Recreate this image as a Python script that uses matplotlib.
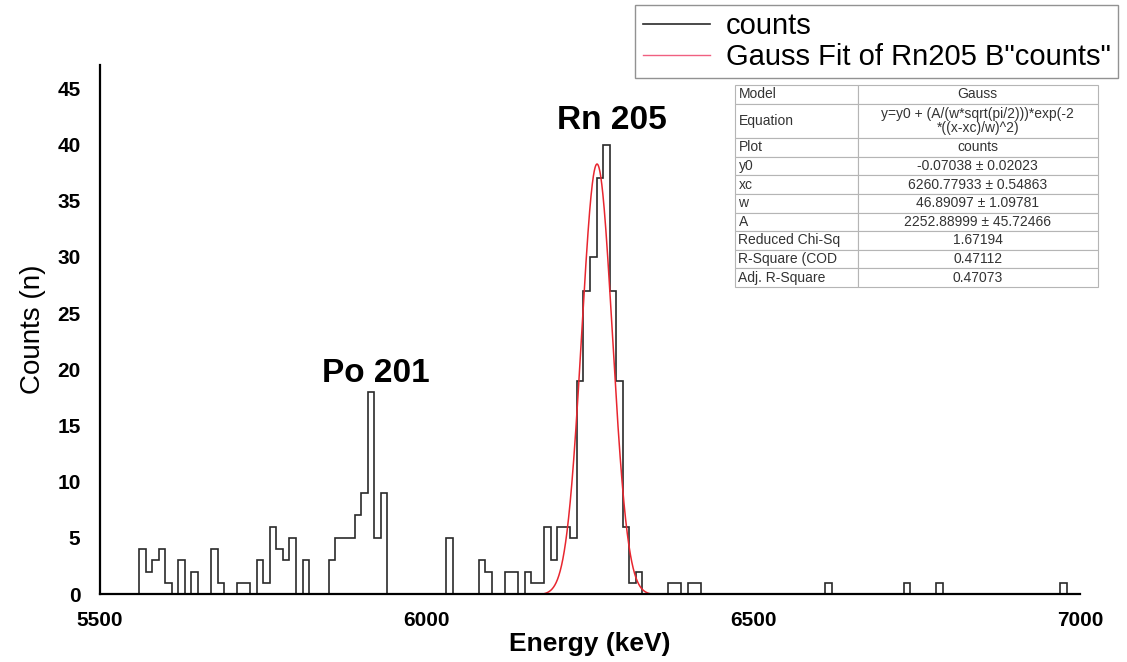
import numpy as np
import matplotlib
matplotlib.use('Agg')
import matplotlib.pyplot as plt
from matplotlib.lines import Line2D

plt.rcParams['font.family'] = ['Liberation Sans', 'DejaVu Sans']

# histogram: 10 keV bins starting at 5560 keV
bin_start = 5560
bin_width = 10
counts = [
    4, 2, 3, 4, 1, 0, 3, 0, 2, 0,       # 5560-5650
    0, 4, 1, 0, 0, 1, 1, 0, 3, 1,       # 5660-5750
    6, 4, 3, 5, 0, 3, 0, 0, 0, 3,       # 5760-5850
    5, 5, 5, 7, 9, 18, 5, 9, 0, 0,      # 5860-5950
    0, 0, 0, 0, 0, 0, 0, 5, 0, 0,       # 5960-6050
    0, 0, 3, 2, 0, 0, 2, 2, 0, 2,       # 6060-6150
    1, 1, 6, 3, 6, 6, 5, 19, 27, 30,    # 6160-6250
    37, 40, 27, 19, 6, 1, 2, 0, 0, 0,   # 6260-6350
    0, 1, 1, 0, 1, 1, 0, 0, 0, 0,       # 6360-6450
    0, 0, 0, 0, 0, 0, 0, 0, 0, 0,       # 6460-6550
    0, 0, 0, 0, 0, 1, 0, 0, 0, 0,       # 6560-6650
    0, 0, 0, 0, 0, 0, 0, 1, 0, 0,       # 6660-6750
    0, 0, 1, 0, 0, 0, 0, 0, 0, 0,       # 6760-6850
    0, 0, 0, 0, 0, 0, 0, 0, 0, 0,       # 6860-6950
    0, 1,                               # 6960-6970
]

# gauss fit parameters (from the fit table)
y0 = -0.07038
xc = 6260.77933
w = 46.89097
A = 2252.88999
fit_range = (6180, 6345)

table_rows = [
    ['Model', 'Gauss'],
    ['Equation', 'y=y0 + (A/(w*sqrt(pi/2)))*exp(-2\n*((x-xc)/w)^2)'],
    ['Plot', 'counts'],
    ['y0', '-0.07038 \u00b1 0.02023'],
    ['xc', '6260.77933 \u00b1 0.54863'],
    ['w', '46.89097 \u00b1 1.09781'],
    ['A', '2252.88999 \u00b1 45.72466'],
    ['Reduced Chi-Sq', '1.67194'],
    ['R-Square (COD', '0.47112'],
    ['Adj. R-Square', '0.47073'],
]

edges = bin_start + bin_width * np.arange(len(counts) + 1)
xfit = np.linspace(fit_range[0], fit_range[1], 400)
yfit = y0 + (A / (w * np.sqrt(np.pi / 2))) * np.exp(-2 * ((xfit - xc) / w) ** 2)

fig = plt.figure(figsize=(11.27, 6.62), dpi=100)
ax = fig.add_axes([0.0887, 0.1027, 0.8696, 0.7995])

ax.stairs(counts, edges, baseline=0, color='#2a2a2a', lw=1.2)
ax.plot(xfit, yfit, color='#e8262f', lw=1.1)

ax.set_xlim(5500, 7000)
ax.set_ylim(0, 47.1)
ax.set_xticks([5500, 6000, 6500, 7000])
ax.set_yticks(range(0, 46, 5))
ax.tick_params(length=0, labelsize=15, pad=14)
for lab in ax.get_xticklabels() + ax.get_yticklabels():
    lab.set_fontweight('bold')
ax.tick_params(axis='x', pad=12)
for s in ['top', 'right']:
    ax.spines[s].set_visible(False)
for s in ['left', 'bottom']:
    ax.spines[s].set_linewidth(1.6)

ax.set_xlabel('Energy (keV)', fontsize=19, fontweight='bold', labelpad=2)
ax.set_ylabel('Counts (n)', fontsize=20, labelpad=8)

ax.text(6283, 42.1, 'Rn 205', fontsize=24, fontweight='bold', ha='center', va='center')
ax.text(5922, 19.6, 'Po 201', fontsize=24, fontweight='bold', ha='center', va='center')

handles = [Line2D([], [], color='#2a2a2a', lw=1.2),
           Line2D([], [], color='#f06080', lw=1.0)]
leg = ax.legend(handles, ['counts', 'Gauss Fit of Rn205 B"counts"'],
                loc='upper right', bbox_to_anchor=(0.992, 0.993),
                bbox_transform=fig.transFigure, fontsize=21, frameon=True,
                fancybox=False, edgecolor='#777777', handlelength=2.3,
                handletextpad=0.55, labelspacing=0.1, borderpad=0.25,
                borderaxespad=0)
leg.get_frame().set_linewidth(1.0)

tab_ax = fig.add_axes([0.652, 0.5665, 0.322, 0.305])
tab_ax.axis('off')
tbl = tab_ax.table(cellText=table_rows, colWidths=[0.339, 0.661],
                   bbox=[0, 0, 1, 1], cellLoc='center')
tbl.auto_set_font_size(False)
tbl.set_fontsize(10)
for (r, c), cell in tbl.get_celld().items():
    cell.set_edgecolor('#b5b5b5')
    cell.set_linewidth(0.8)
    cell.set_height(1.85 if r == 1 else 1.0)
    cell.get_text().set_color('#333333')
    cell.get_text().set_linespacing(1.0)
    if c == 0:
        cell.get_text().set_ha('left')
        cell.PAD = 0.03

fig.savefig('out.png', dpi=100)
